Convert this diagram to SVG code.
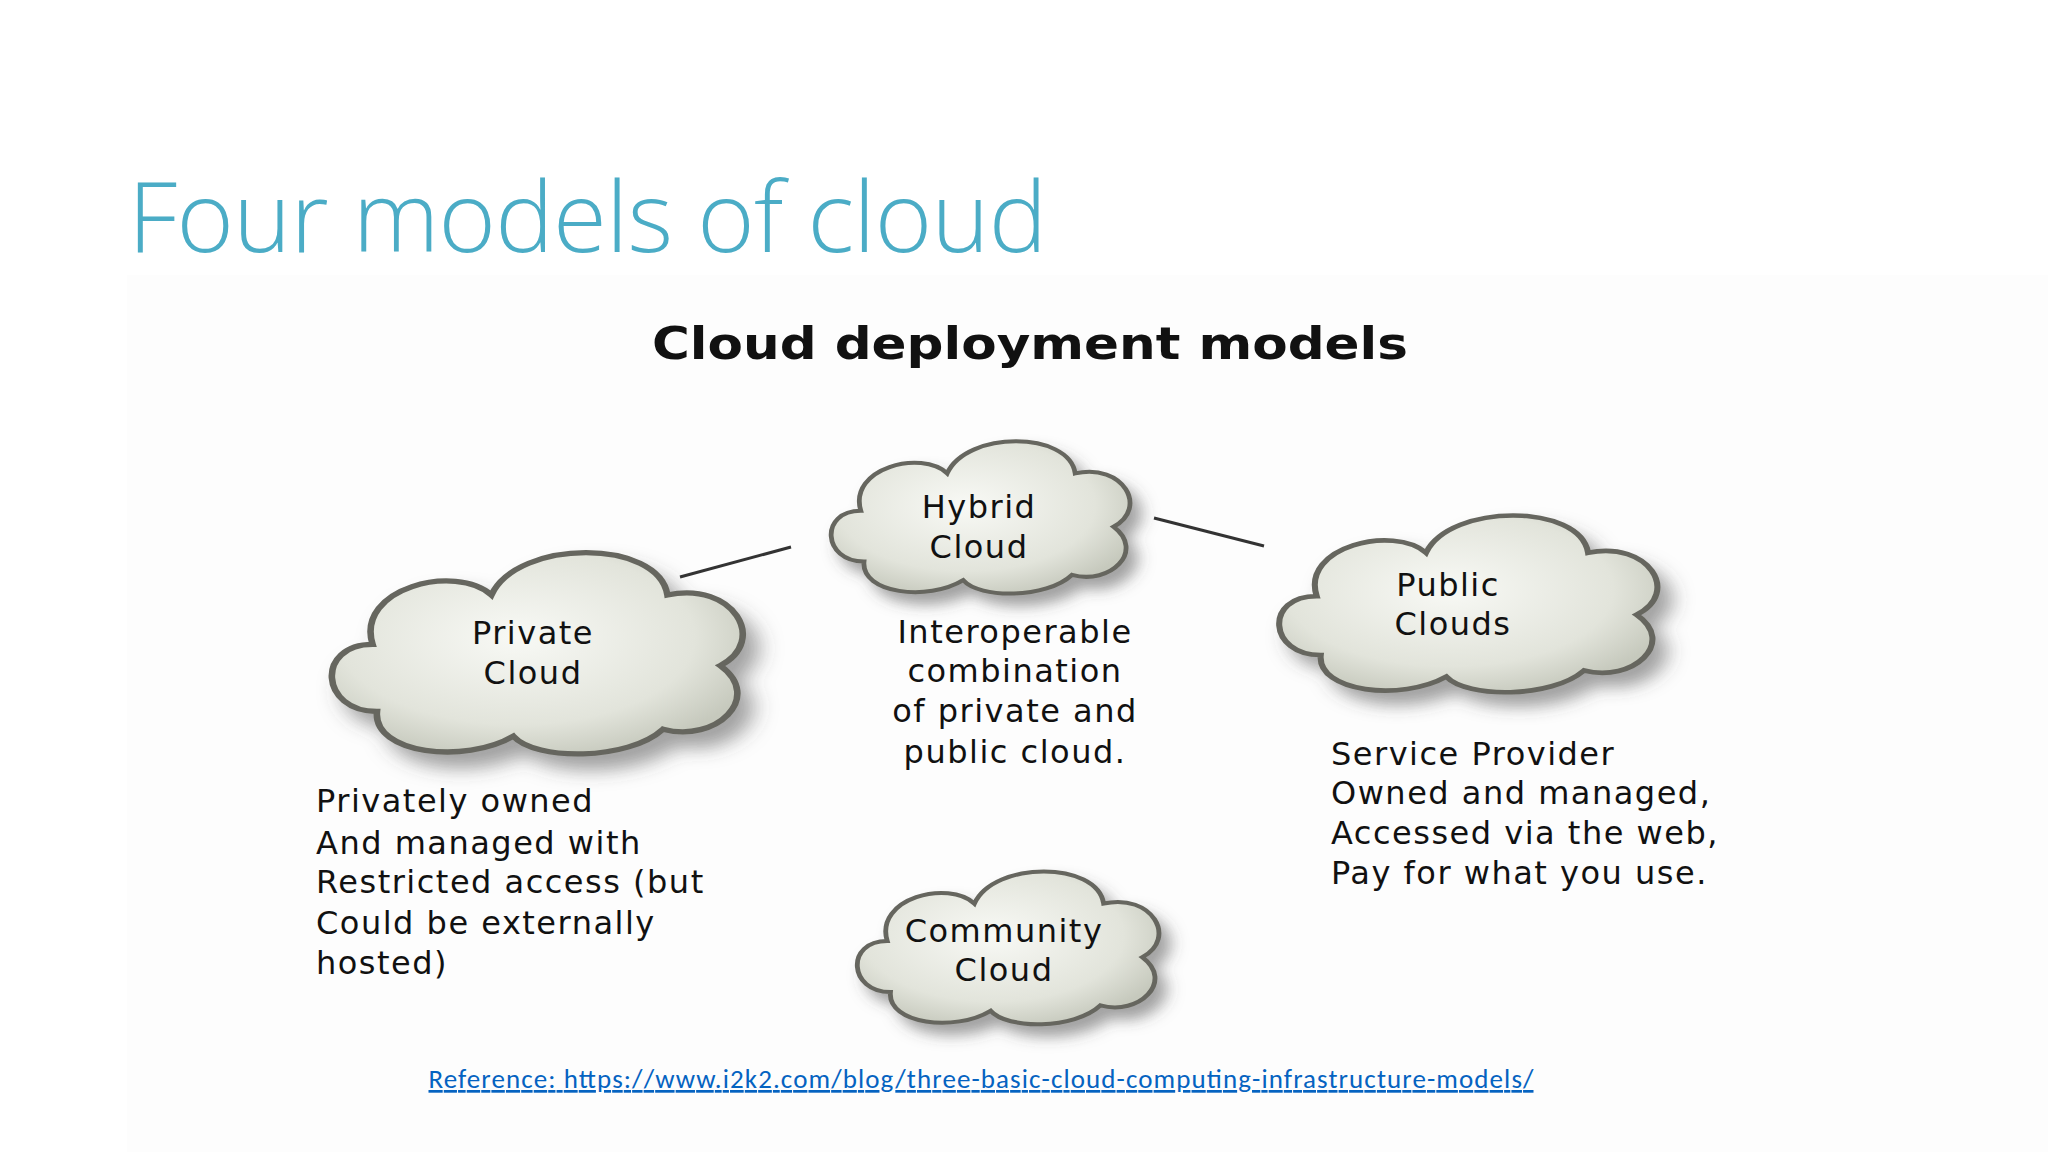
<svg xmlns="http://www.w3.org/2000/svg" width="2048" height="1152" viewBox="0 0 2048 1152">
<style>
.t{font-family:"DejaVu Sans",Verdana,sans-serif;fill:#111}
.n{font-size:32px;letter-spacing:1.5px}
.cl{fill:url(#g);stroke:#66665e;stroke-width:1.5;vector-effect:non-scaling-stroke;filter:url(#sh)}
</style>
<defs>
<radialGradient id="g" cx="0.45" cy="0.42" r="0.62"><stop offset="0" stop-color="#f8f9f5"/><stop offset="0.7" stop-color="#e2e4db"/><stop offset="1" stop-color="#c6c9bd"/></radialGradient>
<filter id="sh" x="-10%" y="-10%" width="130%" height="130%"><feDropShadow dx="3" dy="4" stdDeviation="2.5" flood-color="#444" flood-opacity="0.5"/></filter>
<path id="c" d="M15,50 C2,50 1,31 14,31 C10,15 33,8 41,17 C47,1 79,1 81,17 C96,13 104,30 93,37 C103,46 92,59 80,55 C72,64 51,64 46,57 C35,65 14,62 15,50 Z"/>
</defs>
<rect width="2048" height="1152" fill="#fff"/>
<rect x="127" y="275" width="1921" height="877" fill="#fdfdfd"/>
<text x="128" y="252" font-family="'Open Sans','Liberation Sans',sans-serif" font-weight="300" font-size="98" fill="#4BACC6" textLength="919" lengthAdjust="spacing">Four models of cloud</text>
<text class="t" x="1030" y="359" text-anchor="middle" font-size="45" font-weight="bold" textLength="756" lengthAdjust="spacingAndGlyphs">Cloud deployment models</text>
<g id="connectors" stroke="#333" stroke-width="3">
<line x1="680" y1="577" x2="791" y2="547"/>
<line x1="1154" y1="518" x2="1264" y2="546"/>
</g>
<g id="private"><use href="#c" class="cl" transform="translate(311,535) scale(4.4,3.53)"/>
<text class="t n" text-anchor="middle"><tspan x="533" y="644">Private</tspan><tspan x="533" y="684">Cloud</tspan></text></g>
<g id="hybrid"><use href="#c" class="cl" transform="translate(816,428) scale(3.2,2.67)"/>
<text class="t n" text-anchor="middle"><tspan x="979" y="518">Hybrid</tspan><tspan x="979" y="558">Cloud</tspan></text></g>
<g id="public"><use href="#c" class="cl" transform="translate(1260,500) scale(4.05,3.1)"/>
<text class="t n" text-anchor="middle"><tspan x="1448" y="596">Public</tspan><tspan x="1453" y="635">Clouds</tspan></text></g>
<g id="community"><use href="#c" class="cl" transform="translate(842,858) scale(3.23,2.68)"/>
<text class="t n" text-anchor="middle"><tspan x="1004" y="942">Community</tspan><tspan x="1004" y="981">Cloud</tspan></text></g>
<g id="hybrid-desc"><text class="t n" text-anchor="middle"><tspan x="1015" y="643">Interoperable</tspan><tspan x="1015" y="682">combination</tspan><tspan x="1015" y="722">of private and</tspan><tspan x="1015" y="763">public cloud.</tspan></text></g>
<g id="private-desc"><text class="t n"><tspan x="316" y="812">Privately owned</tspan><tspan x="316" y="854">And managed with</tspan><tspan x="316" y="893">Restricted access (but</tspan><tspan x="316" y="934">Could be externally</tspan><tspan x="316" y="974">hosted)</tspan></text></g>
<g id="public-desc"><text class="t n"><tspan x="1331" y="765">Service Provider</tspan><tspan x="1331" y="804">Owned and managed,</tspan><tspan x="1331" y="844">Accessed via the web,</tspan><tspan x="1331" y="884">Pay for what you use.</tspan></text></g>
<text x="981" y="1088" text-anchor="middle" font-family="Carlito,'Liberation Sans',sans-serif" font-size="27" fill="#0563C1" text-decoration="underline" textLength="1105">Reference: https://www.i2k2.com/blog/three-basic-cloud-computing-infrastructure-models/</text>
</svg>
